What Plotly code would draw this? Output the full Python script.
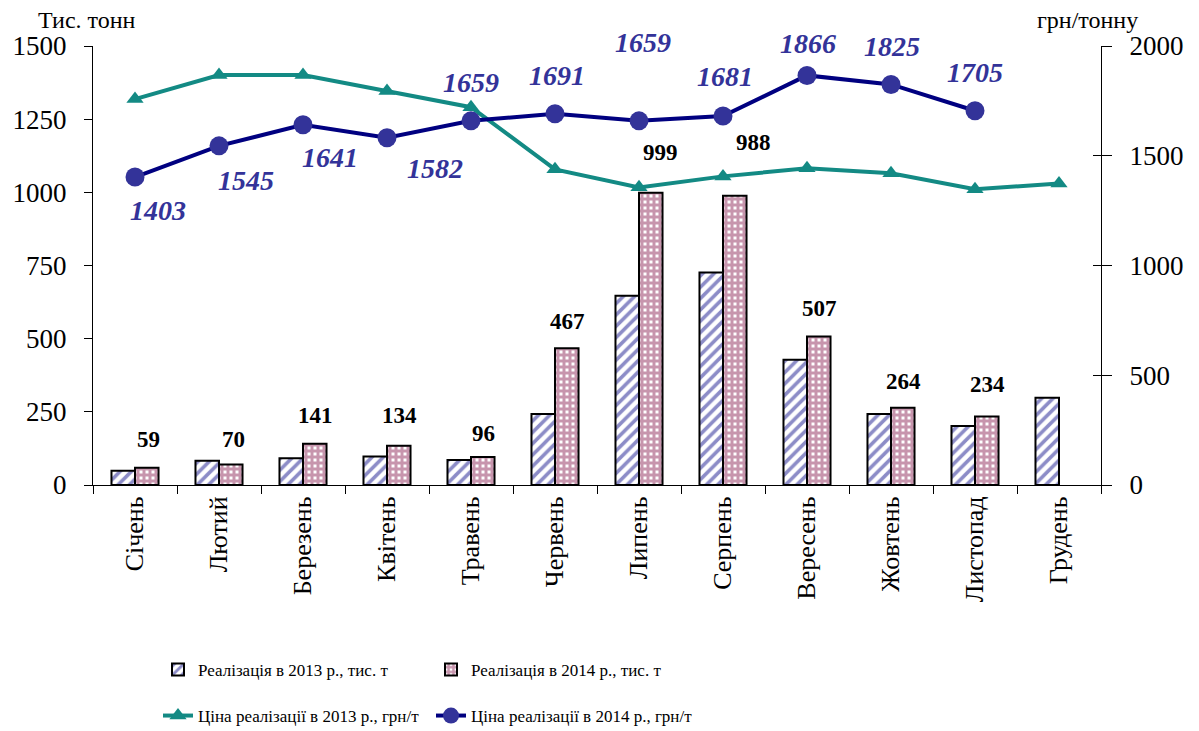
import plotly.graph_objects as go

months = ["Січень", "Лютий", "Березень", "Квітень", "Травень", "Червень",
          "Липень", "Серпень", "Вересень", "Жовтень", "Листопад", "Грудень"]
sales_2013 = [49, 83, 91, 97, 85, 243, 647, 726, 428, 243, 202, 298]
sales_2014 = [59, 70, 141, 134, 96, 467, 999, 988, 507, 264, 234, None]
price_2013 = [1758, 1868, 1868, 1795, 1721, 1438, 1356, 1406, 1443, 1420, 1347, 1374]
price_2014 = [1403, 1545, 1641, 1582, 1659, 1691, 1659, 1681, 1866, 1825, 1705, None]

name_s13 = "Реалізація в 2013 р., тис. т"
name_s14 = "Реалізація в 2014 р., тис. т"
name_p13 = "Ціна реалізації в 2013 р., грн/т"
name_p14 = "Ціна реалізації в 2014 р., грн/т"

# label placement offsets (pixels)
bar_lbl_dx = [13, 14, 12, 12, 12, 12, 21, 30, 12, 12, 12, 12]
bar_lbl_dy = [28, 25, 28, 30, 23, 27, 40, 53, 28, 26, 32, 0]
price_lbl_dx = [23, 27, 27, 48, 0, 2, 4, 2, 1, 1, 0, 0]
price_lbl_dy = [-33, -35, -33, -31, 38, 38, 78, 40, 32, 38, 38, 0]

FONT = "Liberation Serif, Times New Roman, serif"
W, H = 1191, 723  # page body has an 8px default margin

fig = go.Figure()
fig.add_trace(go.Bar(
    x=months, y=sales_2013, name=name_s13, legend="legend",
    marker=dict(color="white", line=dict(color="black", width=2),
                pattern=dict(shape="/", fgcolor="#1a1a90", bgcolor="white",
                             size=8, solidity=0.45)),
))
fig.add_trace(go.Bar(
    x=months, y=sales_2014, name=name_s14, legend="legend",
    marker=dict(color="white", line=dict(color="black", width=2),
                pattern=dict(shape="+", fgcolor="#8f2c5c", bgcolor="white",
                             size=6, solidity=0.75)),
))
fig.add_trace(go.Scatter(
    x=months, y=price_2013, name=name_p13, yaxis="y2", legend="legend2",
    mode="lines+markers", line=dict(color="#138a84", width=4),
    marker=dict(symbol="triangle-up", size=15, color="#138a84"),
))
fig.add_trace(go.Scatter(
    x=months, y=price_2014, name=name_p14, yaxis="y2", legend="legend2",
    mode="lines+markers", line=dict(color="#000080", width=4),
    marker=dict(symbol="circle", size=19, color="#333399"),
))
# helper (invisible) trace so the cross-tick axis is drawn
fig.add_trace(go.Scatter(
    x=[months[0]], y=[None], yaxis="y3", showlegend=False, hoverinfo="skip",
    mode="markers", marker=dict(opacity=0),
))

annotations = []
for m, v, dx, dy in zip(months, sales_2014, bar_lbl_dx, bar_lbl_dy):
    if v is None:
        continue
    annotations.append(dict(
        x=m, y=v, xref="x", yref="y", text=str(v), showarrow=False,
        xshift=dx, yshift=dy, yanchor="middle",
        font=dict(family=FONT, size=23, color="black", weight="bold"),
    ))
for m, v, dx, dy in zip(months, price_2014, price_lbl_dx, price_lbl_dy):
    if v is None:
        continue
    annotations.append(dict(
        x=m, y=v, xref="x", yref="y2", text=str(v), showarrow=False,
        xshift=dx, yshift=dy, yanchor="middle",
        font=dict(family=FONT, size=28, color="#333399", weight="bold", style="italic"),
    ))
# axis unit captions (paper height = 439 px)
annotations.append(dict(
    x=-0.006, y=1.0592, xref="paper", yref="paper", text="Тис. тонн",
    showarrow=False, xanchor="center", yanchor="middle",
    font=dict(family=FONT, size=24, color="black"),
))
annotations.append(dict(
    x=0.987, y=1.0592, xref="paper", yref="paper", text="грн/тонну",
    showarrow=False, xanchor="center", yanchor="middle",
    font=dict(family=FONT, size=24, color="black"),
))

fig.update_layout(
    width=W, height=H,
    margin=dict(l=85, r=98, t=38, b=246, autoexpand=False),
    paper_bgcolor="white", plot_bgcolor="white",
    font=dict(family=FONT, size=26, color="black"),
    barmode="group", bargap=0.44, bargroupgap=0,
    xaxis=dict(type="category", range=[-0.5, len(months) - 0.5],
               tickson="boundaries", ticks="outside", ticklen=8,
               tickcolor="black", showline=True, linecolor="black", linewidth=1,
               tickangle=-90, tickfont=dict(size=26), showgrid=False,
               automargin=False),
    yaxis=dict(range=[0, 1500], dtick=250, ticks="outside", ticklen=8, tickcolor="black",
               showline=True, linecolor="black", linewidth=1, showgrid=False,
               zeroline=False, tickfont=dict(size=27), ticklabelstandoff=12,
               automargin=False),
    yaxis2=dict(range=[0, 2000], dtick=500, overlaying="y", side="right",
                ticks="outside", ticklen=10, tickcolor="black", showline=True,
                linecolor="black", linewidth=1, showgrid=False, zeroline=False,
                tickfont=dict(size=27), ticklabelstandoff=12, automargin=False),
    yaxis3=dict(range=[0, 2000], dtick=500, overlaying="y", side="right",
                ticks="inside", ticklen=8, tickcolor="black", showline=False,
                showticklabels=False, showgrid=False, zeroline=False,
                automargin=False),
    legend=dict(orientation="h", x=150 / W, xref="container", y=1 - 662 / H,
                yref="container", xanchor="left", yanchor="middle",
                entrywidth=228, entrywidthmode="pixels", font=dict(size=17),
                traceorder="normal", itemwidth=30),
    legend2=dict(orientation="h", x=150 / W, xref="container", y=1 - 708 / H,
                 yref="container", xanchor="left", yanchor="middle",
                 entrywidth=228, entrywidthmode="pixels", font=dict(size=17),
                 traceorder="normal", itemwidth=30),
    showlegend=True,
    annotations=annotations,
)

fig.write_html("out.html")
